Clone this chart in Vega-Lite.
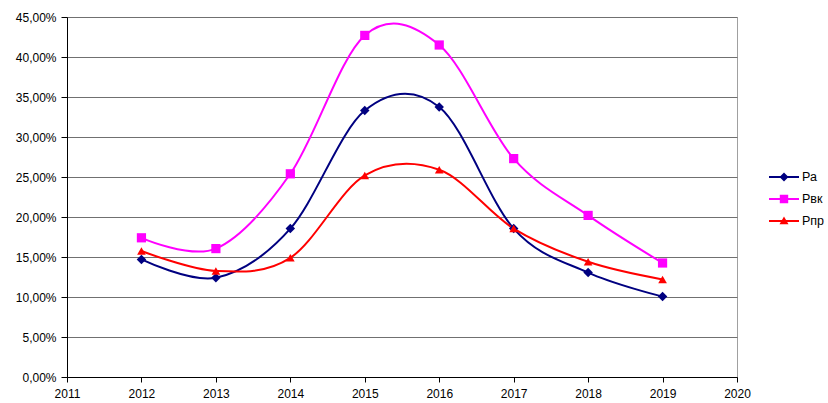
{
  "$schema": "https://vega.github.io/schema/vega-lite/v6.json",
  "width": 670,
  "height": 360,
  "autosize": {"type": "none"},
  "padding": {"left": 67, "top": 17, "right": 91, "bottom": 26},
  "background": "white",
  "config": {
    "font": "Liberation Sans",
    "view": {"stroke": "#a0a0a0", "strokeWidth": 1}
  },
  "data": {
    "values": [
      {"year": 2012, "series": "Ра", "value": 0.147},
      {"year": 2013, "series": "Ра", "value": 0.124},
      {"year": 2014, "series": "Ра", "value": 0.1855},
      {"year": 2015, "series": "Ра", "value": 0.333},
      {"year": 2016, "series": "Ра", "value": 0.3375},
      {"year": 2017, "series": "Ра", "value": 0.1855},
      {"year": 2018, "series": "Ра", "value": 0.1305},
      {"year": 2019, "series": "Ра", "value": 0.1005},
      {"year": 2012, "series": "Рвк", "value": 0.174},
      {"year": 2013, "series": "Рвк", "value": 0.1605},
      {"year": 2014, "series": "Рвк", "value": 0.254},
      {"year": 2015, "series": "Рвк", "value": 0.427},
      {"year": 2016, "series": "Рвк", "value": 0.415},
      {"year": 2017, "series": "Рвк", "value": 0.273},
      {"year": 2018, "series": "Рвк", "value": 0.202},
      {"year": 2019, "series": "Рвк", "value": 0.1425},
      {"year": 2012, "series": "Рпр", "value": 0.1575},
      {"year": 2013, "series": "Рпр", "value": 0.1325},
      {"year": 2014, "series": "Рпр", "value": 0.149},
      {"year": 2015, "series": "Рпр", "value": 0.252},
      {"year": 2016, "series": "Рпр", "value": 0.259},
      {"year": 2017, "series": "Рпр", "value": 0.1855},
      {"year": 2018, "series": "Рпр", "value": 0.144},
      {"year": 2019, "series": "Рпр", "value": 0.122}
    ]
  },
  "encoding": {
    "x": {
      "field": "year",
      "type": "quantitative",
      "scale": {"domain": [2011, 2020], "zero": false, "nice": false},
      "axis": {
        "title": null,
        "values": [2011, 2012, 2013, 2014, 2015, 2016, 2017, 2018, 2019, 2020],
        "format": "d",
        "grid": false,
        "domainColor": "#000000",
        "tickColor": "#000000",
        "tickSize": 5,
        "labelFontSize": 12,
        "labelColor": "#000000",
        "labelPadding": 6,
        "labelFlush": false
      }
    },
    "y": {
      "field": "value",
      "type": "quantitative",
      "scale": {"domain": [0, 0.45], "nice": false},
      "axis": {
        "title": null,
        "values": [0, 0.05, 0.1, 0.15, 0.2, 0.25, 0.3, 0.35, 0.4, 0.45],
        "labelExpr": "replace(format(datum.value, '.2%'), '.', ',')",
        "grid": true,
        "gridColor": "#707070",
        "gridWidth": 1,
        "domainColor": "#000000",
        "tickColor": "#000000",
        "tickSize": 6,
        "labelFontSize": 12,
        "labelColor": "#000000",
        "labelPadding": 5
      }
    },
    "color": {
      "field": "series",
      "type": "nominal",
      "scale": {"domain": ["Ра", "Рвк", "Рпр"], "range": ["#000080", "#FF00FF", "#FF0000"]},
      "legend": {
        "title": null,
        "orient": "none",
        "legendX": 702,
        "legendY": 145,
        "padding": 0,
        "labelFontSize": 12.5,
        "labelColor": "#000000",
        "symbolSize": 900,
        "symbolStrokeWidth": 0,
        "rowPadding": 0,
        "labelOffset": 3
      }
    }
  },
  "layer": [
    {
      "mark": {"type": "line", "interpolate": "cardinal", "strokeWidth": 2}
    },
    {
      "transform": [{"filter": "datum.series === 'Ра'"}],
      "mark": {"type": "point", "filled": true, "size": 90, "opacity": 1, "shape": "diamond"}
    },
    {
      "transform": [{"filter": "datum.series === 'Рвк'"}],
      "mark": {"type": "point", "filled": true, "size": 85, "opacity": 1, "shape": "square"}
    },
    {
      "transform": [{"filter": "datum.series === 'Рпр'"}],
      "mark": {"type": "point", "filled": true, "size": 75, "opacity": 1, "shape": "triangle-up"}
    },
    {
      "transform": [{"filter": "datum.year < 0"}],
      "mark": {"type": "point", "filled": true, "opacity": 1},
      "encoding": {
        "shape": {
          "field": "series",
          "type": "nominal",
          "scale": {
            "domain": ["Ра", "Рвк", "Рпр"],
            "range": [
              "M-1,-0.067L1,-0.067L1,0.067L-1,0.067Z M0,-0.3L0.3,0L0,0.3L-0.3,0Z",
              "M-1,-0.067L1,-0.067L1,0.067L-1,0.067Z M-0.28,-0.28L0.28,-0.28L0.28,0.28L-0.28,0.28Z",
              "M-1,-0.067L1,-0.067L1,0.067L-1,0.067Z M0,-0.3L0.3,0.22L-0.3,0.22Z"
            ]
          },
          "legend": {
            "title": null,
            "orient": "none",
            "legendX": 702,
            "legendY": 145,
            "padding": 0,
            "labelFontSize": 12.5,
            "labelColor": "#000000",
            "symbolSize": 900,
            "symbolStrokeWidth": 0,
            "rowPadding": 0,
            "labelOffset": 3
          }
        }
      }
    }
  ]
}
